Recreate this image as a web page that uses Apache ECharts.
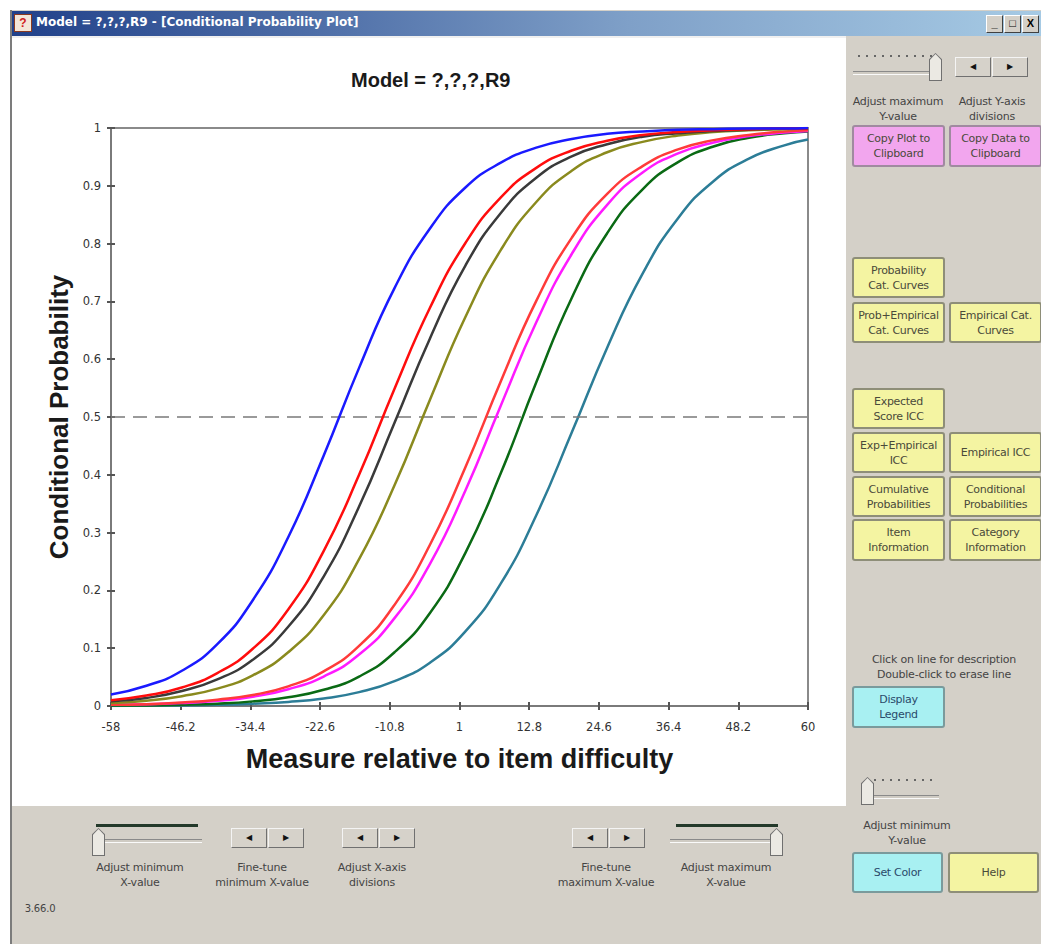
<!DOCTYPE html>
<html>
<head>
<meta charset="utf-8">
<script src="https://cdn.jsdelivr.net/npm/echarts@6/dist/echarts.min.js"></script>
<style>
  html, body { margin:0; padding:0; width:1041px; height:944px; overflow:hidden; background:#fff;
    font-family:"Liberation Sans", Arial, sans-serif; }
  .abs { position:absolute; box-sizing:border-box; }
  #win { left:10px; top:10px; width:1031px; height:934px; background:#d4d0c8; border-left:2px solid #7c7c7c; }
  #titlebar { left:12px; top:11px; width:1029px; height:25px;
    background:linear-gradient(to right, #21418a 0%, #4f6fa8 30%, #7fa0c8 60%, #a6cae4 100%); }
  #titletext { left:36px; top:15px; color:#fff; font-weight:bold; font-size:12px; white-space:nowrap; font-family:"DejaVu Sans", sans-serif; }
  #icon { left:14px; top:14px; width:18px; height:18px; background:#f3e6d8; border:1px solid #8a3a20; color:#d02020; font-weight:bold; font-size:12px; line-height:16px; text-align:center; }
  .wbtn { top:15px; width:17px; height:18px; background:#d4d0c8; border:1px solid; border-color:#fff #404040 #404040 #fff; font-size:11px; line-height:15px; text-align:center; font-weight:bold; color:#000; }
  #plotbg { left:12px; top:36px; width:834px; height:770px; background:#fff; border-top:2px solid #f0f0f0; }
  #chart { left:0; top:0; width:1041px; height:944px; z-index:2; pointer-events:none; }
  .lbl { font-size:11px; color:#444; text-align:center; line-height:15px; white-space:pre; font-family:"DejaVu Sans", sans-serif; letter-spacing:-0.2px; }
  .btn { font-size:11px; color:#4a4a3a; text-align:center; line-height:15px; white-space:pre; border:2px solid #8e8e78; border-radius:3px;
    display:flex; align-items:center; justify-content:center; font-family:"DejaVu Sans", sans-serif; letter-spacing:-0.3px; }
  .yel { background:#f4f4a2; }
  .pink { background:#f2a6ee; border-color:#a08aa0; }
  .cyan { background:#a8f0f2; border-color:#7a9a9c; color:#2a4a6a; }
  .arr { width:36px; height:20px; background:#d6d2ca; border:1px solid; border-color:#f4f4f4 #707070 #707070 #f4f4f4;
    font-size:8px; line-height:18px; text-align:center; color:#111; font-family:"DejaVu Sans", sans-serif; }
  .track { height:3px; border-top:1px solid #8a8a8a; border-bottom:1px solid #fafafa; background:#cfcbc3; }
  .dots { height:2px; background:repeating-linear-gradient(to right, #666 0 2px, transparent 2px 8px); }
  .thickline { height:3px; background:#23392a; }
  .thumb { width:13px; height:28px; background:#707070; clip-path:polygon(50% 0, 100% 22%, 100% 100%, 0 100%, 0 22%); }
  .thumbin { width:11px; height:26px; background:#ebe9e3; clip-path:polygon(50% 0, 100% 22%, 100% 100%, 0 100%, 0 22%); }
</style>
</head>
<body>
<div id="win" class="abs"></div>
<div id="titlebar" class="abs"></div>
<div id="icon" class="abs">?</div>
<div id="titletext" class="abs">Model = ?,?,?,R9 - [Conditional Probability Plot]</div>
<div class="abs wbtn" style="left:986px;">_</div>
<div class="abs wbtn" style="left:1004px;">□</div>
<div class="abs wbtn" style="left:1022px;">X</div>
<div id="plotbg" class="abs"></div>
<div id="ui"></div>
<div id="chart" class="abs"></div>
<script>
// ---------------- data ----------------
const chartTitle = 'Model = ?,?,?,R9';
const xName = 'Measure relative to item difficulty';
const yName = 'Conditional Probability';
const xTicks = [-58, -46.2, -34.4, -22.6, -10.8, 1, 12.8, 24.6, 36.4, 48.2, 60];
const refY = 0.5;
const xs = [-58, -52, -46, -40, -34, -28, -22, -16, -10, -4, 2, 8, 14, 20, 26, 32, 38, 44, 50, 56, 60];
const blueVals    = [0.020,0.035,0.061,0.107,0.183,0.292,0.433,0.585,0.723,0.826,0.897,0.940,0.966,0.981,0.990,0.994,0.997,0.998,0.999,0.999,1.000];
const redVals     = [0.010,0.018,0.032,0.057,0.099,0.167,0.268,0.400,0.549,0.689,0.801,0.880,0.931,0.961,0.978,0.988,0.993,0.996,0.998,0.999,0.999];
const blackVals   = [0.008,0.014,0.026,0.046,0.080,0.137,0.224,0.345,0.490,0.636,0.762,0.853,0.914,0.951,0.972,0.985,0.991,0.995,0.997,0.999,0.999];
const oliveVals   = [0.005,0.009,0.017,0.030,0.053,0.093,0.157,0.254,0.382,0.530,0.673,0.789,0.872,0.926,0.958,0.976,0.987,0.993,0.996,0.998,0.999];
const red2Vals    = [0.002,0.003,0.006,0.011,0.019,0.034,0.060,0.104,0.175,0.279,0.413,0.562,0.701,0.810,0.886,0.934,0.963,0.979,0.988,0.994,0.996];
const magentaVals = [0.002,0.003,0.005,0.009,0.016,0.029,0.051,0.089,0.152,0.246,0.373,0.520,0.664,0.782,0.867,0.923,0.956,0.975,0.986,0.992,0.995];
const greenVals   = [0.001,0.001,0.002,0.004,0.008,0.015,0.028,0.051,0.093,0.161,0.265,0.403,0.560,0.706,0.818,0.894,0.941,0.968,0.983,0.991,0.994];
const tealVals    = [0.000,0.001,0.001,0.002,0.004,0.007,0.013,0.024,0.043,0.075,0.129,0.212,0.330,0.473,0.620,0.748,0.844,0.908,0.947,0.970,0.980];

const curves = [
  { name: 'c8', vals: tealVals,    color: '#2c7d97' },
  { name: 'c7', vals: greenVals,   color: '#0a6a14' },
  { name: 'c6', vals: magentaVals, color: '#ff1aff' },
  { name: 'c5', vals: red2Vals,    color: '#ff3a3a' },
  { name: 'c4', vals: oliveVals,   color: '#8a8a1e' },
  { name: 'c3', vals: blackVals,   color: '#3a3a3a' },
  { name: 'c2', vals: redVals,     color: '#ff0d0d' },
  { name: 'c1', vals: blueVals,    color: '#1a1aff' }
];

// ---------------- surrounding window controls ----------------
const ui = document.getElementById('ui');
function el(cls, x, y, w, h, text) {
  const d = document.createElement('div');
  d.className = 'abs ' + cls;
  d.style.left = x + 'px'; d.style.top = y + 'px';
  if (w != null) d.style.width = w + 'px';
  if (h != null) d.style.height = h + 'px';
  if (text != null) d.textContent = text;
  ui.appendChild(d);
  return d;
}
function arrows(x, y) { el('arr', x, y, 36, 20, '◀'); el('arr', x + 37, y, 36, 20, '▶'); }
function thumb(x, y) { el('thumb', x, y); el('thumbin', x + 1, y + 1); }

// right panel
el('dots', 858, 55, 78, 2);
el('track', 853, 71, 84, 4);
thumb(929, 53);
arrows(955, 57);
el('lbl', 846, 94, 104, null, 'Adjust maximum\nY-value');
el('lbl', 942, 94, 100, null, 'Adjust Y-axis\ndivisions');
el('btn pink', 852, 125, 93, 42, 'Copy Plot to\nClipboard');
el('btn pink', 949, 125, 93, 42, 'Copy Data to\nClipboard');
el('btn yel', 852, 257, 93, 41, 'Probability\nCat. Curves');
el('btn yel', 852, 302, 93, 41, 'Prob+Empirical\nCat. Curves');
el('btn yel', 949, 302, 93, 41, 'Empirical Cat.\nCurves');
el('btn yel', 852, 388, 93, 41, 'Expected\nScore ICC');
el('btn yel', 852, 432, 93, 41, 'Exp+Empirical\nICC');
el('btn yel', 949, 432, 93, 41, 'Empirical ICC');
el('btn yel', 852, 476, 93, 41, 'Cumulative\nProbabilities');
el('btn yel', 949, 476, 93, 41, 'Conditional\nProbabilities');
el('btn yel', 852, 519, 93, 42, 'Item\nInformation');
el('btn yel', 949, 519, 93, 42, 'Category\nInformation');
el('lbl', 850, 652, 188, null, 'Click on line for description\nDouble-click to erase line');
el('btn cyan', 852, 686, 93, 42, 'Display\nLegend');
el('dots', 866, 779, 70, 2);
el('track', 861, 795, 78, 4);
thumb(861, 777);
el('lbl', 855, 818, 104, null, 'Adjust minimum\nY-value');
el('btn cyan', 852, 852, 91, 41, 'Set Color');
el('btn yel', 948, 852, 91, 41, 'Help');

// bottom panel
el('thickline', 96, 824, 102, 3);
el('track', 92, 839, 110, 4);
thumb(92, 828);
el('lbl', 84, 860, 112, null, 'Adjust minimum\nX-value');
arrows(231, 828);
el('lbl', 200, 860, 124, null, 'Fine-tune\nminimum X-value');
arrows(342, 828);
el('lbl', 318, 860, 108, null, 'Adjust X-axis\ndivisions');
arrows(572, 828);
el('lbl', 544, 860, 124, null, 'Fine-tune\nmaximum X-value');
el('thickline', 676, 824, 102, 3);
el('track', 670, 839, 110, 4);
thumb(770, 828);
el('lbl', 670, 860, 112, null, 'Adjust maximum\nX-value');
el('lbl', 20, 901, 40, null, '3.66.0').style.fontSize = '10px';

// ---------------- chart ----------------
const FONT = '"Liberation Sans", Arial, sans-serif';
const TICKFONT = '"DejaVu Sans", sans-serif';
const chart = echarts.init(document.getElementById('chart'), null, { renderer: 'svg', width: 1041, height: 944 });
const series = curves.map((c, i) => ({
  name: c.name,
  type: 'line',
  data: xs.map((x, j) => [x, c.vals[j]]),
  symbol: 'none',
  smooth: 0.5,
  lineStyle: { color: c.color, width: 2.5 },
  itemStyle: { color: c.color },
  silent: true,
  z: 3 + i,
  animation: false
}));
series.unshift({
  type: 'line', data: [], symbol: 'none', silent: true, z: 2, animation: false,
  markLine: {
    symbol: ['none', 'none'], silent: true, animation: false,
    label: { show: false },
    lineStyle: { color: '#7a7a7a', width: 1.5, type: [14, 8] },
    data: [{ yAxis: refY }]
  }
});

chart.setOption({
  backgroundColor: 'transparent',
  animation: false,
  title: {
    text: chartTitle, left: 346, top: 65,
    textStyle: { fontSize: 20, fontWeight: 'bold', color: '#1a1a1a', fontFamily: FONT }
  },
  grid: { left: 111, top: 128, width: 697, height: 578, show: true, borderColor: '#8a8a8a', borderWidth: 2, backgroundColor: 'transparent' },
  xAxis: [{
    type: 'value', min: -58, max: 60,
    name: xName, nameLocation: 'middle', nameGap: 39,
    nameTextStyle: { fontSize: 27, fontWeight: 'bold', color: '#1a1a1a', fontFamily: FONT },
    axisLine: { show: true, onZero: false, lineStyle: { color: '#7a7a7a', width: 2 } },
    axisTick: { show: true, customValues: xTicks, length: 4, lineStyle: { color: '#555', width: 2 } },
    axisLabel: { customValues: xTicks, margin: 15, fontSize: 11.5, color: '#333', fontFamily: TICKFONT },
    splitLine: { show: false }
  }, {
    type: 'value', min: -58, max: 60, position: 'bottom',
    axisLine: { show: false, onZero: false },
    axisTick: { show: true, inside: true, customValues: xTicks, length: 4, lineStyle: { color: '#555', width: 2 } },
    axisLabel: { show: false }, splitLine: { show: false }
  }],
  yAxis: [{
    type: 'value', min: 0, max: 1, interval: 0.1,
    name: yName, nameLocation: 'middle', nameRotate: 90, nameGap: 37,
    nameTextStyle: { fontSize: 26, fontWeight: 'bold', color: '#1a1a1a', fontFamily: FONT },
    axisLine: { show: true, onZero: false, lineStyle: { color: '#7a7a7a', width: 2 } },
    axisTick: { show: true, length: 4, lineStyle: { color: '#555', width: 2 } },
    axisLabel: { margin: 10, fontSize: 11.5, color: '#333', fontFamily: TICKFONT },
    splitLine: { show: false }
  }, {
    type: 'value', min: 0, max: 1, interval: 0.1, position: 'left',
    axisLine: { show: false, onZero: false },
    axisTick: { show: true, inside: true, length: 4, lineStyle: { color: '#555', width: 2 } },
    axisLabel: { show: false }, splitLine: { show: false }
  }],
  series: series
});
</script>
</body>
</html>
